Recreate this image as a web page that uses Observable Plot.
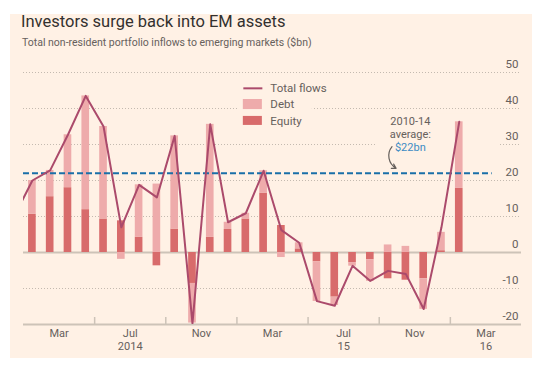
<!DOCTYPE html>
<html>
<head>
<meta charset="utf-8">
<script src="https://cdn.jsdelivr.net/npm/d3@7"></script>
<script src="https://cdn.jsdelivr.net/npm/@observablehq/plot@0.6"></script>
<style>
  body { margin: 0; background: #ffffff; font-family: Roboto, "Noto Sans", sans-serif; }
  #bg { position: absolute; left: 10px; top: 14px; width: 522px; height: 344px; background: #fff1e5; }
  #title { position: absolute; left: 21px; top: 12px; font-size: 16.5px; line-height: 20px; color: #33302e; white-space: nowrap; }
  #subtitle { position: absolute; left: 22px; top: 35.5px; font-size: 10.5px; line-height: 14px; color: #66605c; white-space: nowrap; }
  #chart { position: absolute; left: 0; top: 50px; }
</style>
</head>
<body>
<div id="bg"></div>
<div id="title">Investors surge back into EM assets</div>
<div id="subtitle">Total non-resident portfolio inflows to emerging markets ($bn)</div>
<div id="chart"></div>
<script>
// ---- data ----
const barMonths = ["2014-01","2014-02","2014-03","2014-04","2014-05","2014-06","2014-07","2014-08","2014-09","2014-10","2014-11","2014-12",
                   "2015-01","2015-02","2015-03","2015-04","2015-05","2015-06","2015-07","2015-08","2015-09","2015-10","2015-11","2015-12","2016-01"];
const equity = [10.6, 15.5, 18.0, 11.9, 9.3, 8.8, 4.2, -3.7, 6.5, -8.6, 4.2, 6.4,
                9.3, 16.5, 7.5, 1.0, -2.6, -12.4, -2.8, -2.0, -7.3, -7.7, -7.3, 0.5, 17.8];
const debt   = [9.4, 7.3, 14.7, 31.6, 25.7, -1.9, 14.6, 19.0, 25.9, -11.0, 31.4, 2.0,
                1.6, 6.2, -1.4, 1.7, -11.0, -2.3, -1.0, -6.0, 2.1, 1.7, -8.5, 5.1, 18.5];
const lineMonths = ["2013-12", ...barMonths];
const totalFlows = [10.3, 20.0, 22.8, 32.7, 43.5, 35.0, 7.0, 18.8, 15.3, 32.4, -19.7, 35.6, 8.4,
                    10.9, 22.7, 6.2, 2.7, -13.5, -14.8, -3.7, -7.9, -5.1, -6.0, -15.7, 7.0, 36.3];
const average = 22;
const tickMonths = ["2014-03","2014-07","2014-11","2015-03","2015-07","2015-11","2016-03"];
const tickLabels = ["Mar","Jul","Nov","Mar","Jul","Nov","Mar"];
const yearLabels = ["","2014","","","15","","16"];
const sepMonths = ["2014-05","2014-09","2015-01","2015-05","2015-09","2016-01"];
const yTicks = [-20, -10, 0, 10, 20, 30, 40, 50];
const seriesNames = ["Total flows", "Debt", "Equity"];

// ---- helpers ----
const idx = s => { const [y, m] = s.split("-").map(Number); return (y - 2014) * 12 + (m - 1); };
const bars = [];
barMonths.forEach((m, i) => {
  bars.push({m: idx(m), type: "Equity", value: equity[i]});
  bars.push({m: idx(m), type: "Debt", value: debt[i]});
});
const line = lineMonths.map((m, i) => ({m: idx(m) + 0.5, value: totalFlows[i]}));

const BG = "#fff1e5", GREY = "#66605c", DARK = "#d86b6b", LIGHT = "#eeabab", WINE = "#ab4a6b", BLUE = "#1a6fa8";

const chart = Plot.plot({
  width: 554, height: 310,
  marginTop: 22, marginBottom: 36, marginLeft: 23, marginRight: 33,
  x: {domain: [0, 28], axis: null},
  y: {domain: [-20, 50], axis: null},
  color: {domain: ["Equity", "Debt"], range: [DARK, LIGHT]},
  style: {background: "transparent", fontFamily: "Roboto, 'Noto Sans', sans-serif", fontSize: "11px", color: GREY, overflow: "visible"},
  marks: [
    // dotted gridlines
    Plot.ruleY(yTicks.filter(d => d !== 0 && d !== -20), {stroke: "#c4bab0", strokeDasharray: "1,2", strokeWidth: 1}),
    // masks behind legend and annotation
    Plot.rect([0], {x1: 12.08, x2: 16.24, y1: 34.4, y2: 47.8, fill: BG}),
    Plot.rect([0], {x1: 19.9, x2: 26.8, y1: 27.6, y2: 38.6, fill: BG}),
    // zero and baseline
    Plot.ruleY([0, -20], {stroke: "#cdc3b8", strokeWidth: 2}),
    // separator ticks
    Plot.ruleX(sepMonths.map(idx), {y1: -20, y2: -18.05, stroke: "#cdc3b8", strokeWidth: 1.5}),
    // bars
    Plot.rectY(bars, {x1: d => d.m + 0.285, x2: d => d.m + 0.715, y: "value", fill: "type"}),
    // average line
    Plot.ruleY([average], {x1: 0, x2: 26.35, stroke: BLUE, strokeWidth: 2, strokeDasharray: "6,3"}),
    // total flows line
    Plot.line(line, {x: "m", y: "value", stroke: WINE, strokeWidth: 2, clip: true}),
    // y labels
    Plot.text(yTicks, {frameAnchor: "right", y: d => d, text: d => String(d), textAnchor: "end", dx: -3, dy: -8, fill: GREY, fontSize: 11.5}),
    // x labels
    Plot.text(tickMonths, {x: d => idx(d), frameAnchor: "bottom", lineAnchor: "top", dy: 5, text: (d, i) => tickLabels[i], fill: GREY, fontSize: 11}),
    Plot.text(tickMonths, {x: d => idx(d), frameAnchor: "bottom", lineAnchor: "top", dy: 18, text: (d, i) => yearLabels[i], fill: GREY, fontSize: 11}),
    // legend
    Plot.link([seriesNames[0]], {x1: 12.36, x2: 13.43, y1: 45.6, y2: 45.6, stroke: WINE, strokeWidth: 2}),
    Plot.rect([seriesNames[1]], {x1: 12.36, x2: 13.43, y1: 39.7, y2: 42.5, fill: LIGHT}),
    Plot.rect([seriesNames[2]], {x1: 12.36, x2: 13.43, y1: 35.3, y2: 37.8, fill: DARK}),
    Plot.text(seriesNames, {x: 13.88, y: (d, i) => [45.6, 41.1, 36.4][i], text: d => d, textAnchor: "start", fill: GREY, fontSize: 11.5}),
    // annotation
    Plot.text(["2010-14"], {x: 21.75, y: 36.5, text: d => d, fill: GREY, fontSize: 11}),
    Plot.text(["average:"], {x: 21.75, y: 32.85, text: d => d, fill: GREY, fontSize: 11}),
    Plot.text(["$22bn"], {x: 21.75, y: 29.2, text: d => d, fill: "#3d8cc4", fontSize: 11}),
    Plot.arrow([0], {x1: 20.72, y1: 29.4, x2: 20.95, y2: 23.4, bend: -50, stroke: GREY, strokeWidth: 1.2, headLength: 6})
  ]
});
document.getElementById("chart").appendChild(chart);
</script>
</body>
</html>
